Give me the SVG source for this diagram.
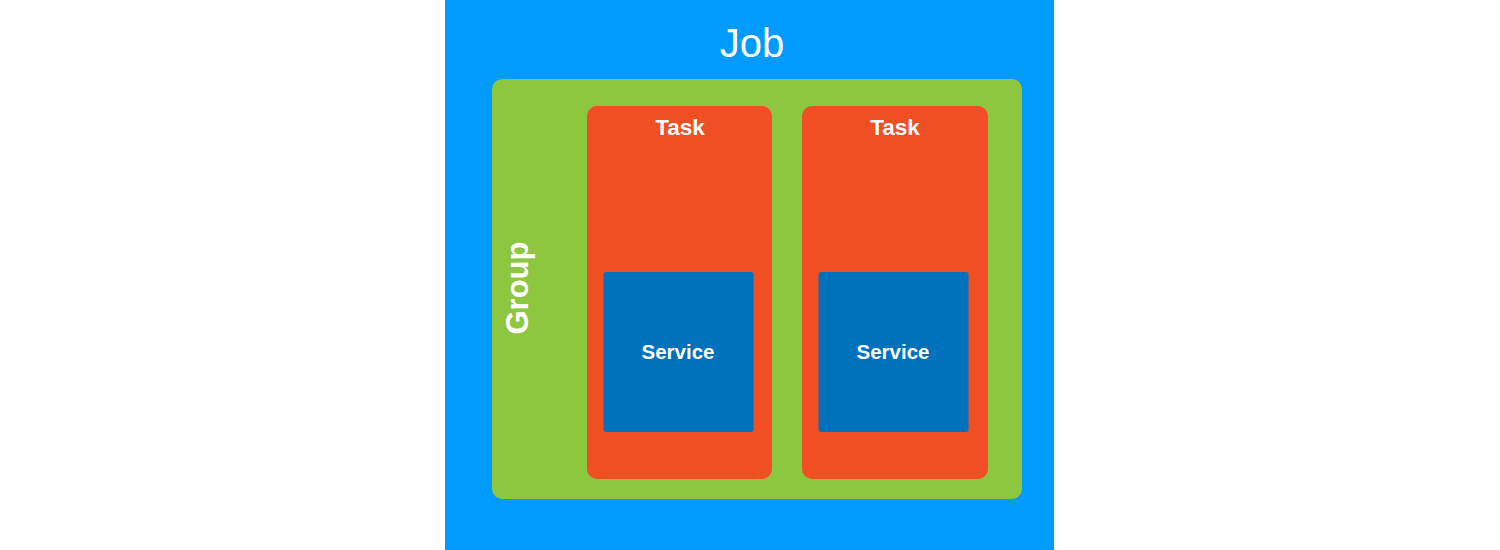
<svg xmlns="http://www.w3.org/2000/svg" width="1500" height="550" viewBox="0 0 1500 550">
<style>
.t{font-family:"Liberation Sans",Arial,sans-serif;fill:#fff;text-anchor:middle}
.job{fill:#009BFF}
.grp{fill:#8DC63F}
.task{fill:#F04E23}
.svc{fill:#0071BC}
</style>
<rect width="1500" height="550" fill="#fff"/>
<g id="job">
<rect class="job" x="445" y="0" width="609" height="550"/>
<text class="t" x="752" y="57" font-size="40">Job</text>
</g>
<g id="group">
<rect class="grp" x="492" y="79" width="530" height="420" rx="10"/>
<text class="t" font-size="31" font-weight="bold" transform="translate(528,288) rotate(-90)">Group</text>
</g>
<g id="task1">
<rect class="task" x="587" y="106" width="185" height="373" rx="10"/>
<text class="t" x="680" y="135" font-size="22.5" font-weight="bold">Task</text>
</g>
<g id="task2">
<rect class="task" x="802" y="106" width="186" height="373" rx="10"/>
<text class="t" x="895" y="135" font-size="22.5" font-weight="bold">Task</text>
</g>
<g id="service1">
<rect class="svc" x="603.5" y="272" width="150" height="160" rx="3"/>
<text class="t" x="678" y="359" font-size="20.5" font-weight="bold">Service</text>
</g>
<g id="service2">
<rect class="svc" x="818.5" y="272" width="150" height="160" rx="3"/>
<text class="t" x="893" y="359" font-size="20.5" font-weight="bold">Service</text>
</g>
<g id="connectors"></g>
</svg>
